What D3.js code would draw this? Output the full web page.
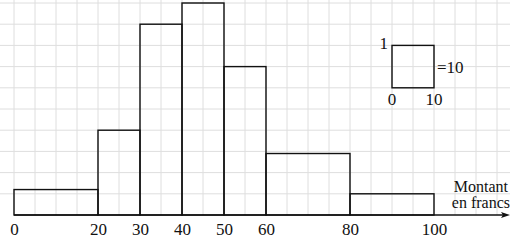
<!DOCTYPE html>
<html>
<head>
<meta charset="utf-8">
<script src="https://cdn.jsdelivr.net/npm/d3@7"></script>
<style>
  html, body { margin: 0; padding: 0; background: #fff; }
  svg { display: block; }
</style>
</head>
<body>
<svg id="chart" width="510" height="240"></svg>
<script>
// Class bounds (francs) and counts (effectifs)
const classStarts = [0, 20, 30, 40, 50, 60, 80];
const classEnds   = [20, 30, 40, 50, 60, 80, 100];
const counts      = [12, 20, 45, 50, 35, 29, 10];
const tickLabels  = [0, 20, 30, 40, 50, 60, 80, 100];
const axisTitle   = ["Montant", "en francs"];
const keyLabels   = { height: "1", zero: "0", width: "10", value: "=10" };

const svg = d3.select("#chart");
const W = 510, H = 240;
const x = d3.scaleLinear().domain([0, 100]).range([14, 434]);
const y = d3.scaleLinear().domain([0, 5]).range([215, 3]);
const font = "'Liberation Serif', 'Times New Roman', serif";
const fs = 17;

// grid
const grid = svg.append("g").attr("stroke", "#dedede").attr("stroke-width", 1);
grid.selectAll("line.v").data(d3.range(0, 120, 5)).join("line")
  .attr("x1", d => x(d)).attr("x2", d => x(d))
  .attr("y1", 0).attr("y2", y(0));
grid.selectAll("line.h").data(d3.range(0.5, 5.5, 0.5)).join("line")
  .attr("x1", 0).attr("x2", W)
  .attr("y1", d => y(d)).attr("y2", d => y(d));

// bars (height = density per 10 francs)
const bars = classStarts.map((s, i) => ({ s, e: classEnds[i], h: counts[i] / (classEnds[i] - s) }));
svg.append("g").selectAll("rect").data(bars).join("rect")
  .attr("x", d => x(d.s)).attr("width", d => x(d.e) - x(d.s))
  .attr("y", d => y(d.h)).attr("height", d => y(0) - y(d.h))
  .attr("fill", "none").attr("stroke", "#111").attr("stroke-width", 1.4);

// axis line with arrow
svg.append("line").attr("x1", x(0)).attr("x2", 506).attr("y1", y(0)).attr("y2", y(0))
  .attr("stroke", "#111").attr("stroke-width", 1.4);
svg.append("path").attr("d", `M510,${y(0)} L501,${y(0)-3} L503,${y(0)} L501,${y(0)+3} Z`).attr("fill", "#111");

// tick labels
const axis = d3.axisBottom(x).tickValues(tickLabels).tickSize(0).tickPadding(8).tickFormat(d3.format("d"));
const ag = svg.append("g").attr("transform", `translate(0,${y(0)})`).call(axis);
ag.select(".domain").remove();
ag.selectAll("text").attr("font-family", font).attr("font-size", fs).attr("fill", "#111");

// axis title (two lines in one text element)
const title = svg.append("text").attr("text-anchor", "end")
  .attr("font-family", font).attr("font-size", 16).attr("fill", "#111");
title.append("tspan").attr("x", 508).attr("y", 192).text(axisTitle[0]);
title.append("tspan").attr("x", 510).attr("y", 208).text(axisTitle[1]);

// key square
svg.append("rect").attr("x", x(90)).attr("width", x(100) - x(90))
  .attr("y", y(4)).attr("height", y(3) - y(4))
  .attr("fill", "none").attr("stroke", "#111").attr("stroke-width", 1.4);
const kt = svg.append("g").attr("font-family", font).attr("font-size", fs).attr("fill", "#111");
kt.append("text").attr("x", x(90) - 4).attr("y", y(4) + 4).attr("text-anchor", "end").text(keyLabels.height);
kt.append("text").attr("x", x(90)).attr("y", y(3) + 17).attr("text-anchor", "middle").text(keyLabels.zero);
kt.append("text").attr("x", x(100)).attr("y", y(3) + 17).attr("text-anchor", "middle").text(keyLabels.width);
kt.append("text").attr("x", x(100) + 3).attr("y", y(3.5) + 6).attr("text-anchor", "start").text(keyLabels.value);
</script>
</body>
</html>
